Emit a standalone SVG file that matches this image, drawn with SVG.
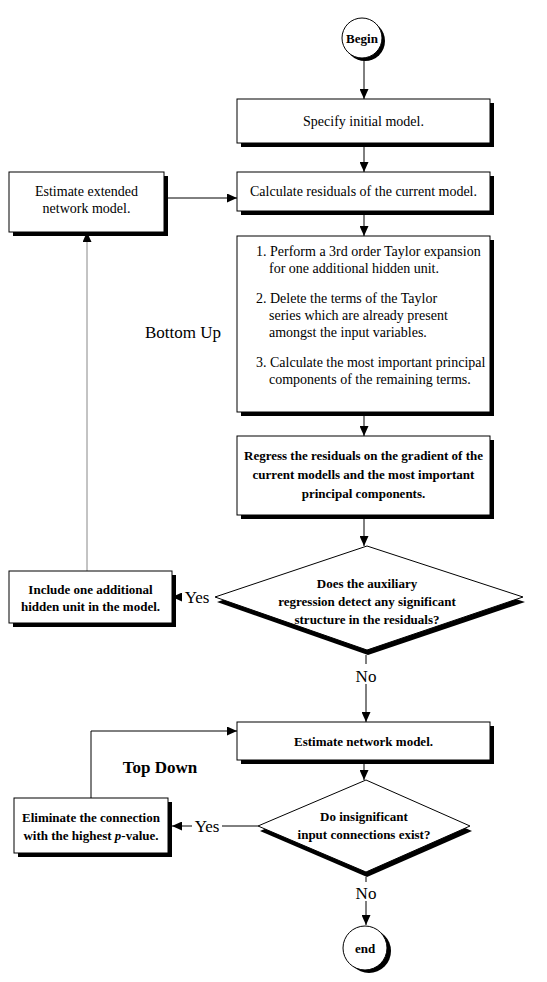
<svg xmlns="http://www.w3.org/2000/svg" width="547" height="982" viewBox="0 0 547 982">
<defs>
<marker id="arr" markerWidth="10" markerHeight="9" refX="10" refY="4.5" orient="auto" markerUnits="userSpaceOnUse">
<path d="M0,0 L10,4.5 L0,9 z" fill="#000"/>
</marker>
<style>
.box{fill:#fff;stroke:#000;stroke-width:1}
.sh{fill:#000}
.t{font-family:"Liberation Serif","Times New Roman",serif;font-size:13px;fill:#000;text-anchor:middle}
.r{font-size:14px}
.b{font-weight:bold}
.l{text-anchor:start}
.big{font-family:"Liberation Serif","Times New Roman",serif;font-size:17px;fill:#000;text-anchor:middle}
.c{fill:none;stroke:#000;stroke-width:1}
.g{stroke:#888}
</style>
</defs>
<rect width="547" height="982" fill="#fff"/>

<g id="connectors">
<line class="c" x1="364" y1="58" x2="364" y2="99" marker-end="url(#arr)"/>
<line class="c" x1="364" y1="147" x2="364" y2="172" marker-end="url(#arr)"/>
<line class="c" x1="364" y1="215" x2="364" y2="236" marker-end="url(#arr)"/>
<line class="c" x1="364" y1="416" x2="364" y2="436" marker-end="url(#arr)"/>
<line class="c" x1="364" y1="519" x2="364" y2="546" marker-end="url(#arr)"/>
<line class="c" x1="366" y1="655" x2="366" y2="664"/>
<line class="c" x1="366" y1="684" x2="366" y2="722" marker-end="url(#arr)"/>
<line class="c" x1="180" y1="597" x2="172" y2="597" marker-end="url(#arr)"/>
<line class="c g" x1="87" y1="571" x2="87" y2="232" marker-end="url(#arr)"/>
<line class="c" x1="164" y1="198" x2="237" y2="198" marker-end="url(#arr)"/>
<line class="c" x1="364" y1="764" x2="364" y2="780" marker-end="url(#arr)"/>
<line class="c" x1="258" y1="826" x2="222" y2="826"/>
<line class="c" x1="192" y1="826" x2="172" y2="826" marker-end="url(#arr)"/>
<polyline class="c" points="91,798 91,731 237,731" marker-end="url(#arr)"/>
<line class="c" x1="366" y1="877" x2="366" y2="882"/>
<line class="c" x1="366" y1="901" x2="366" y2="925" marker-end="url(#arr)"/>
<text class="big" x="197" y="603">Yes</text>
<text class="big" x="366" y="682">No</text>
<text class="big" x="207" y="832">Yes</text>
<text class="big" x="366" y="899">No</text>
<text class="big" x="183" y="338">Bottom Up</text>
<text class="big b" x="160" y="773">Top Down</text>
</g>

<g id="begin">
<circle class="sh" cx="365" cy="41" r="20"/>
<circle class="box" cx="362" cy="38" r="20"/>
<text class="t b" x="362" y="43">Begin</text>
</g>

<g id="specify">
<rect class="sh" x="241" y="103" width="253" height="44"/>
<rect class="box" x="237" y="99" width="253" height="44"/>
<text class="t r" x="363.5" y="126">Specify initial model.</text>
</g>

<g id="calculate">
<rect class="sh" x="241" y="176" width="253" height="39"/>
<rect class="box" x="237" y="172" width="253" height="39"/>
<text class="t r" x="363.5" y="196">Calculate residuals of the current model.</text>
</g>

<g id="estimate-extended">
<rect class="sh" x="13" y="176" width="155" height="60"/>
<rect class="box" x="9" y="172" width="155" height="60"/>
<text class="t r" x="86.5" y="196">Estimate extended</text>
<text class="t r" x="86.5" y="213">network model.</text>
</g>

<g id="taylor">
<rect class="sh" x="241" y="240" width="253" height="176"/>
<rect class="box" x="237" y="236" width="253" height="176"/>
<text class="t r l" x="256" y="256">1. Perform a 3rd order Taylor expansion</text>
<text class="t r l" x="269" y="273">for one additional hidden unit.</text>
<text class="t r l" x="256" y="303">2. Delete the terms of the Taylor</text>
<text class="t r l" x="269" y="320">series which are already present</text>
<text class="t r l" x="269" y="337">amongst the input variables.</text>
<text class="t r l" x="256" y="367">3. Calculate the most important principal</text>
<text class="t r l" x="269" y="384">components of the remaining terms.</text>
</g>

<g id="regress">
<rect class="sh" x="241" y="440" width="253" height="79"/>
<rect class="box" x="237" y="436" width="253" height="79"/>
<text class="t b" x="363.5" y="460">Regress the residuals on the gradient of the</text>
<text class="t b" x="363.5" y="479">current modells and the most important</text>
<text class="t b" x="363.5" y="498">principal components.</text>
</g>

<g id="decision1">
<polygon class="sh" points="368,551 525,602 368,655 217,602"/>
<polygon class="box" points="367,546 523,597 367,650 215,597"/>
<text class="t b" x="367" y="588">Does the auxiliary</text>
<text class="t b" x="367" y="606">regression detect any significant</text>
<text class="t b" x="367" y="624">structure in the residuals?</text>
</g>

<g id="include">
<rect class="sh" x="13" y="575" width="163" height="52"/>
<rect class="box" x="9" y="571" width="163" height="52"/>
<text class="t b" x="90.5" y="594">Include one additional</text>
<text class="t b" x="90.5" y="611">hidden unit in the model.</text>
</g>

<g id="estimate-network">
<rect class="sh" x="241" y="726" width="253" height="38"/>
<rect class="box" x="237" y="722" width="253" height="38"/>
<text class="t b" x="363.5" y="746">Estimate network model.</text>
</g>

<g id="decision2">
<polygon class="sh" points="367,785 472,831 367,877 260,831"/>
<polygon class="box" points="366,780 470,826 366,872 258,826"/>
<text class="t b" x="364" y="821">Do insignificant</text>
<text class="t b" x="364" y="839">input connections exist?</text>
</g>

<g id="eliminate">
<rect class="sh" x="18" y="802" width="154" height="55"/>
<rect class="box" x="14" y="798" width="154" height="55"/>
<text class="t b" x="91" y="822">Eliminate the connection</text>
<text class="t b" x="91" y="840">with the highest <tspan font-style="italic">p</tspan>-value.</text>
</g>

<g id="end">
<circle class="sh" cx="369" cy="951" r="22"/>
<circle class="box" cx="365" cy="948" r="22"/>
<text class="t b" x="365" y="953">end</text>
</g>
</svg>
